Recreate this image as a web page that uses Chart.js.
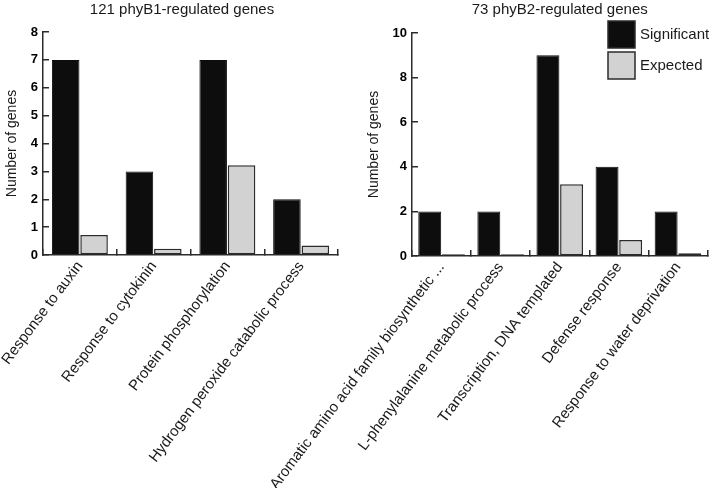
<!DOCTYPE html>
<html>
<head>
<meta charset="utf-8">
<script src="https://cdn.jsdelivr.net/npm/chart.js@4.4.1/dist/chart.umd.min.js"></script>
<style>
  body { margin: 0; background: #fff; width: 709px; height: 488px; position: relative; overflow: hidden; }
  #left { position: absolute; left: 0; top: 0; }
  #right { position: absolute; left: 250px; top: 0; }
</style>
</head>
<body>
<canvas id="left" width="364" height="488"></canvas>
<canvas id="right" width="459" height="488"></canvas>
<script>
const seriesNames = ['Significant', 'Expected'];

const b1Title = '121 phyB1-regulated genes';
const b1Labels = ['Response to auxin', 'Response to cytokinin', 'Protein phosphorylation', 'Hydrogen peroxide catabolic process'];
const b1Significant = [7, 3, 7, 2];
const b1Expected = [0.72, 0.22, 3.22, 0.34];
const b1YMax = 8;
const b1YStep = 1;

const b2Title = '73 phyB2-regulated genes';
const b2Labels = ['Aromatic amino acid family biosynthetic ...', 'L-phenylalanine metabolic process', 'Transcription, DNA templated', 'Defense response', 'Response to water deprivation'];
const b2Significant = [2, 2, 9, 4, 2];
const b2Expected = [0.08, 0.08, 3.22, 0.72, 0.12];
const b2YMax = 10;
const b2YStep = 2;

const FONT = '"Liberation Sans", Arial, Helvetica, sans-serif';
const INK = '#1a1a1a';
const AXIS = '#2b2b2b';

// legend drawn as big square boxes in the top right corner of the plot
const boxLegend = {
  id: 'boxLegend',
  afterDraw(chart, args, opts) {
    if (!opts.show) return;
    const ctx = chart.ctx;
    const area = chart.chartArea;
    ctx.save();
    chart.data.datasets.forEach((ds, i) => {
      const x = area.right - 99.5;
      const y = area.top - 12 + i * 31;
      ctx.fillStyle = ds.backgroundColor;
      ctx.fillRect(x, y, 27, 27);
      ctx.strokeStyle = AXIS;
      ctx.lineWidth = 1.5;
      ctx.strokeRect(x, y, 27, 27);
      ctx.fillStyle = INK;
      ctx.font = '15px ' + FONT;
      ctx.textBaseline = 'middle';
      ctx.textAlign = 'left';
      ctx.fillText(ds.label, x + 32, y + 14);
    });
    ctx.restore();
  }
};

function makeChart(canvas, cfg) {
  return new Chart(canvas, {
    type: 'bar',
    data: {
      labels: cfg.labels,
      datasets: [
        { label: seriesNames[0], data: cfg.significant, backgroundColor: '#0d0d0d', borderColor: '#0d0d0d', borderWidth: 1 },
        { label: seriesNames[1], data: cfg.expected, backgroundColor: '#d2d2d2', borderColor: AXIS, borderWidth: 1.5, borderSkipped: false }
      ]
    },
    options: {
      responsive: false,
      animation: false,
      categoryPercentage: cfg.catPct,
      barPercentage: 0.97,
      layout: { padding: { left: cfg.padLeft, right: cfg.padRight, top: 0, bottom: 0 } },
      plugins: {
        legend: { display: false },
        tooltip: { enabled: false },
        title: {
          display: true,
          text: cfg.title,
          fullSize: cfg.titleFull,
          color: INK,
          font: { family: FONT, size: 15, weight: 'normal' },
          padding: { top: 1, bottom: cfg.titleGap }
        },
        boxLegend: { show: cfg.legend }
      },
      scales: {
        x: {
          grid: { offset: true, drawOnChartArea: false, tickLength: -6, color: AXIS, lineWidth: 1.5 },
          border: { color: AXIS, width: 1.5 },
          ticks: {
            autoSkip: false, minRotation: 53, maxRotation: 53, padding: 9,
            color: INK, font: { family: FONT, size: 15 }
          },
          afterFit: s => { s.height = cfg.xHeight; s.paddingLeft = 0; s.paddingRight = cfg.xPadRight; }
        },
        y: {
          min: 0,
          max: cfg.yMax,
          grid: { drawOnChartArea: false, tickLength: -6, color: AXIS, lineWidth: 1.5 },
          border: { color: AXIS, width: 1.5 },
          ticks: {
            stepSize: cfg.yStep, padding: 11,
            color: '#000', font: { family: FONT, size: 13, weight: 'bold' }
          },
          title: {
            display: true, text: 'Number of genes', color: INK,
            font: { family: FONT, size: 14 }, padding: { top: 4, bottom: 4 }
          },
          afterFit: s => { s.width = cfg.yWidth; }
        }
      }
    },
    plugins: [boxLegend]
  });
}

makeChart(document.getElementById('left'), {
  title: b1Title, labels: b1Labels, significant: b1Significant, expected: b1Expected,
  yMax: b1YMax, yStep: b1YStep, catPct: 0.77,
  padLeft: 0, padRight: 0, xPadRight: 26, yWidth: 43, xHeight: 233, titleGap: 13, titleFull: true, legend: false
});

makeChart(document.getElementById('right'), {
  title: b2Title, labels: b2Labels, significant: b2Significant, expected: b2Expected,
  yMax: b2YMax, yStep: b2YStep, catPct: 0.8,
  padLeft: 112, padRight: 1.5, xPadRight: 0, yWidth: 50, xHeight: 232, titleGap: 14, titleFull: false, legend: true
});
</script>
</body>
</html>
